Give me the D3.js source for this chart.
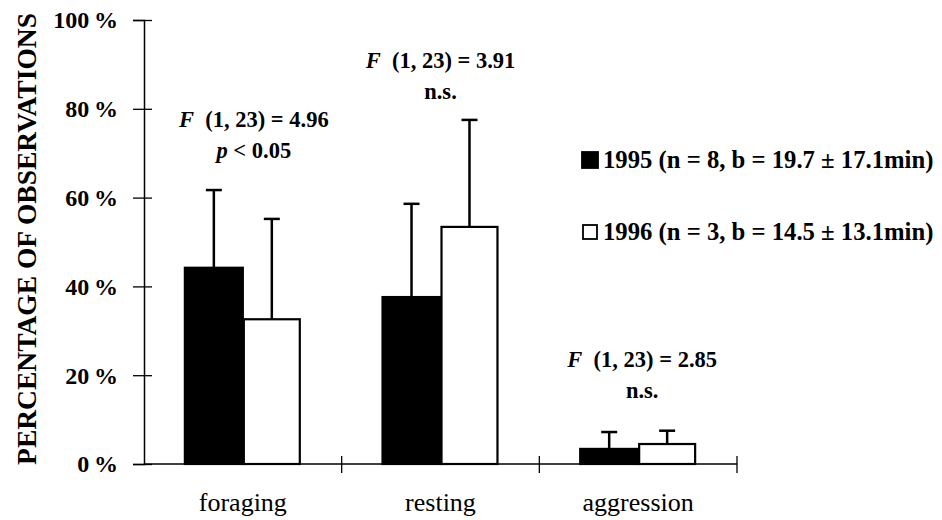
<!DOCTYPE html>
<html lang="en">
<head>
  <meta charset="UTF-8">
  <title>Percentage of observations</title>
  <script src="https://d3js.org/d3.v7.min.js"></script>
  <style>
    body {
      margin: 0;
      background: #fff;
    }
    svg text {
      font-family: "Liberation Serif", "Times New Roman", serif;
      fill: #000;
    }
    .tick-label { font-size: 24px; font-weight: bold; }
    .cat-label { font-size: 26px; }
    .note { font-size: 22.5px; font-weight: bold; text-anchor: middle; }
    .legend { font-size: 24.7px; font-weight: bold; }
  </style>
</head>
<body>
  <svg width="942" height="520"></svg>

  <script>
    const categories = ["foraging", "resting", "aggression"];
    const years = ["1995", "1996"];
    const means1995 = [44.2, 37.6, 3.4];
    const means1996 = [32.6, 53.4, 4.5];
    const errTop1995 = [61.7, 58.6, 7.2];
    const errTop1996 = [55.2, 77.5, 7.5];
    const yTicks = [0, 20, 40, 60, 80, 100];
    const legendLabels = [
      "1995 (n = 8, b = 19.7 \u00b1 17.1min)",
      "1996 (n = 3, b = 14.5 \u00b1 13.1min)"
    ];
    const statF = ["4.96", "3.91", "2.85"];
    const statSub = ["p", "n.s.", "n.s."];

    const data = categories.map((c, i) => ({
      cat: c,
      bars: [
        { year: years[0], v: means1995[i], e: errTop1995[i] },
        { year: years[1], v: means1996[i], e: errTop1996[i] }
      ]
    }));

    const svg = d3.select("svg");
    const serif = "'Liberation Serif', 'Times New Roman', serif";

    const y = d3.scaleLinear().domain([0, 100]).range([464, 20]);
    const x = d3.scaleBand().domain(categories).range([144, 737]);
    const x1 = d3.scaleBand().domain(years)
      .range([0, x.bandwidth()]).paddingOuter(0.705);

    // y-Achse
    const yAxis = svg.append("g").attr("transform", "translate(144,0)")
      .call(d3.axisLeft(y).tickValues(yTicks).tickSize(11).tickFormat(d => d + "\u2009%"));
    yAxis.attr("font-size", null).attr("font-family", null);
    yAxis.select(".domain").attr("stroke", "#000").attr("stroke-width", 1.5);
    yAxis.selectAll(".tick line").attr("stroke", "#000").attr("stroke-width", 1.3)
      .attr("x1", 8);
    yAxis.selectAll(".tick text")
      .attr("class", "tick-label")
      .attr("x", -26)
      .attr("dy", "0.33em")
      .style("font-family", serif);

    // x-Achse
    const xAxis = svg.append("g").attr("transform", `translate(0,${y(0)})`);
    xAxis.append("line")
      .attr("x1", x.range()[0]).attr("x2", x.range()[1])
      .attr("stroke", "#000").attr("stroke-width", 1.3);
    xAxis.selectAll(".xt")
      .data(categories.slice(1).map(c => x(c)).concat([x.range()[1]]))
      .join("line")
      .attr("x1", d => d).attr("x2", d => d)
      .attr("y1", -8).attr("y2", 9)
      .attr("stroke", "#000").attr("stroke-width", 1.3);
    xAxis.selectAll(".cat-label")
      .data(categories)
      .join("text")
      .attr("class", "cat-label")
      .attr("text-anchor", "middle")
      .attr("x", d => x(d) + x.bandwidth() / 2)
      .attr("y", 47)
      .style("font-family", serif)
      .text(d => d);

    // Balken
    const groups = svg.selectAll(".grp")
      .data(data)
      .join("g")
      .attr("transform", d => `translate(${x(d.cat)},0)`);

    groups.selectAll(".err")
      .data(d => d.bars)
      .join("g")
      .each(function(d) {
        const g = d3.select(this);
        const cx = x1(d.year) + x1.bandwidth() / 2;
        g.append("line")
          .attr("x1", cx).attr("x2", cx)
          .attr("y1", y(d.v)).attr("y2", y(d.e))
          .attr("stroke", "#000").attr("stroke-width", 2.5);
        g.append("line")
          .attr("x1", cx - 8).attr("x2", cx + 8)
          .attr("y1", y(d.e)).attr("y2", y(d.e))
          .attr("stroke", "#000").attr("stroke-width", 2.5);
      });

    groups.selectAll(".bar")
      .data(d => d.bars)
      .join("rect")
      .attr("x", d => x1(d.year) + (d.year === years[1] ? 1 : 0))
      .attr("y", d => y(d.v))
      .attr("width", d => x1.bandwidth() - (d.year === years[1] ? 2 : 0))
      .attr("height", d => y(0) - y(d.v))
      .attr("fill", d => d.year === years[0] ? "#000" : "#fff")
      .attr("stroke", "#000")
      .attr("stroke-width", 2.2);

    // Statistik-Texte
    const noteY = [75.8, 89.2, 21.8];
    const noteX = [11, 0, 4];
    categories.forEach((c, i) => {
      const cx = x(c) + x.bandwidth() / 2 + noteX[i];
      const t1 = svg.append("text").attr("class", "note")
        .style("font-family", serif)
        .attr("x", cx).attr("y", y(noteY[i]));
      t1.append("tspan").attr("font-style", "italic").text("F");
      t1.append("tspan").text("\u2002(1, 23) = " + statF[i]);
      const t2 = svg.append("text").attr("class", "note")
        .style("font-family", serif)
        .attr("x", cx).attr("y", y(noteY[i]) + 31);
      if (statSub[i] === "p") {
        t2.append("tspan").attr("font-style", "italic").text("p");
        t2.append("tspan").text(" < 0.05");
      } else {
        t2.text(statSub[i]);
      }
    });

    // Legende
    const legend = svg.append("g").attr("transform", "translate(582,152)");
    legendLabels.forEach((lab, i) => {
      const ly = i * 72;
      legend.append("rect")
        .attr("x", i === 0 ? 0 : 1).attr("y", ly + (i === 0 ? 0 : 1))
        .attr("width", i === 0 ? 16 : 14).attr("height", i === 0 ? 16 : 14)
        .attr("fill", i === 0 ? "#000" : "#fff")
        .attr("stroke", "#000").attr("stroke-width", 1.8);
      legend.append("text").attr("class", "legend")
        .style("font-family", serif)
        .attr("x", 21).attr("y", ly + 15.5)
        .text(lab);
    });

    // Achsentitel
    svg.append("text")
      .attr("transform", "translate(36,239) rotate(-90)")
      .attr("text-anchor", "middle")
      .style("font-family", serif)
      .style("font-size", "27.5px")
      .style("font-weight", "bold")
      .text("PERCENTAGE OF OBSERVATIONS");
  </script>
</body>
</html>
